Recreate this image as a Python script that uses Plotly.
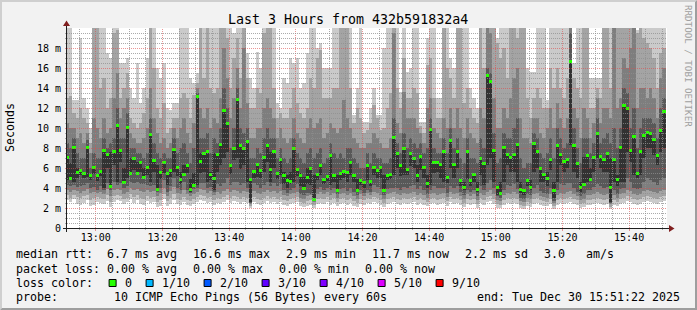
import math
import plotly.graph_objects as go
from datetime import datetime, timedelta

# ---------------- data ----------------
title_text = "Last 3 Hours from 432b591832a4"
graph_start = datetime(2025, 12, 30, 12, 51, 22)
graph_end = datetime(2025, 12, 30, 15, 51, 22)
first_bin_center = datetime(2025, 12, 30, 12, 51, 30)   # 1-minute bins

median = [7.07,4.97,8.1,5.53,5.8,5.47,8.07,5.3,6.03,5.23,5.7,7.8,7.37,4.2,7.7,10.3,7.8,4.53,10.07,5.5,6.97,5.47,6.6,5.07,6.03,9.37,6.8,3.87,5.57,6.53,5.47,5.8,7.9,6.1,4.9,5.37,
          6.23,3.9,4.23,13.13,6.63,7.43,7.63,5.37,5.0,7.37,8.37,11.8,10.47,6.3,7.97,12.87,8.27,7.97,8.63,4.87,5.63,6.37,5.73,7.1,8.23,5.87,7.63,5.5,6.87,5.3,4.73,4.63,8.0,5.87,5.23,3.97,
          5.03,5.97,2.9,5.4,6.27,4.9,5.2,7.23,5.23,3.8,5.47,5.7,5.53,6.53,5.3,3.8,4.8,4.53,6.23,4.7,6.07,5.73,6.03,3.8,5.23,5.37,9.07,7.43,6.23,7.93,5.87,7.47,6.97,5.3,7.17,6.03,
          4.47,9.9,6.53,6.53,6.4,7.63,5.1,8.8,6.4,7.67,4.8,4.03,7.7,4.73,5.37,3.9,6.97,6.43,15.3,14.63,7.77,4.03,3.47,8.1,7.37,7.1,7.4,8.4,3.9,3.73,4.77,4.07,8.43,7.7,5.97,5.37,
          4.97,6.83,3.73,8.23,7.37,6.63,6.87,16.63,8.3,6.43,4.07,4.4,7.27,4.83,7.1,9.47,7.13,6.83,7.43,4.07,6.83,4.83,8.07,12.27,11.97,7.8,9.17,5.47,7.63,9.27,9.57,9.47,8.9,7.23,9.8,11.63]

# sorted ping round-trip times per minute (ms), ping 1 = fastest ... ping 10 = slowest
p1 = [2.8,2.6,2.9,2.4,2.3,2.5,2.8,2.2,2.3,2.6,2.5,2.4,2.7,2.1,2.6,2.8,2.7,2.4,2.6,2.9,2.5,2.8,2.4,2.3,2.7,2.5,2.6,2.1,2.2,2.9,2.2,2.4,2.8,2.4,2.3,2.6,
      2.3,2.2,2.4,2.6,2.8,2.7,2.5,2.6,2.3,2.5,2.4,2.6,2.8,2.5,2.7,2.6,2.4,2.6,2.5,2.0,2.6,2.4,2.3,2.5,2.7,2.5,2.6,2.4,2.6,2.3,2.2,2.4,2.5,2.6,2.2,2.1,
      2.2,2.3,2.0,2.4,2.5,2.4,2.6,2.3,2.5,2.2,2.4,2.5,2.3,2.5,2.2,2.1,2.4,2.3,2.5,2.4,2.6,2.5,2.3,2.1,2.4,2.5,2.6,2.4,2.3,2.5,2.4,2.5,2.6,2.3,2.5,2.3,
      2.2,2.4,2.5,2.3,2.4,2.5,2.2,2.6,2.4,2.5,2.3,2.1,2.4,2.3,2.4,2.0,2.5,2.3,2.6,2.7,2.4,2.0,2.0,2.3,2.5,2.4,2.5,2.4,2.0,1.9,2.2,2.1,2.4,2.5,2.3,2.2,
      2.2,2.4,1.9,2.3,2.5,2.4,2.5,2.6,2.4,2.3,2.0,2.1,2.3,2.3,2.4,2.5,2.4,2.3,2.4,1.9,2.3,2.2,2.4,2.5,2.7,2.6,2.4,2.3,2.4,2.6,2.7,2.6,2.5,2.4,2.6,2.7]
p2 = [3.3,3.0,3.3,3.1,3.0,3.2,3.3,2.8,3.0,3.1,3.0,2.9,3.3,2.6,3.2,3.3,3.2,2.9,3.0,3.4,3.1,3.3,3.0,2.9,3.2,3.0,3.1,2.6,2.8,3.4,2.7,3.0,3.4,2.9,2.8,3.1,
      2.8,2.7,2.9,3.1,3.3,3.2,3.0,3.1,2.8,3.0,2.9,3.1,3.3,3.0,3.2,3.1,2.9,3.1,3.0,2.2,3.1,2.9,2.8,3.0,3.2,3.0,3.1,2.9,3.1,2.8,2.7,2.9,3.0,3.1,2.6,2.5,
      2.7,2.8,2.3,2.9,3.0,2.9,3.1,2.8,3.0,2.6,2.9,3.0,2.8,3.0,2.7,2.5,2.9,2.8,3.0,2.9,3.1,3.0,2.8,2.5,2.9,3.0,3.1,2.9,2.8,3.0,2.9,3.0,3.1,2.8,3.0,2.8,
      2.6,2.9,3.0,2.8,2.9,3.0,2.7,3.1,2.9,3.0,2.8,2.5,2.9,2.8,2.9,2.4,3.0,2.8,3.1,3.2,2.9,2.4,2.3,2.8,3.0,2.9,3.0,2.9,2.3,2.2,2.6,2.5,2.9,3.0,2.8,2.7,
      2.6,2.9,2.2,2.8,3.0,2.9,3.0,3.1,2.9,2.8,2.4,2.5,2.8,2.8,2.9,3.0,2.9,2.8,2.9,2.1,2.8,2.6,2.9,3.0,3.2,3.1,2.9,2.8,2.9,3.1,3.2,3.1,3.0,2.9,3.1,3.2]
p3 = [3.8,3.6,3.8,3.7,3.5,3.7,3.9,3.5,3.6,3.5,3.6,3.4,3.9,3.2,3.8,3.9,3.8,3.4,3.6,4.0,3.8,3.9,3.7,3.6,3.8,3.6,3.7,3.2,3.5,4.0,3.2,3.7,4.1,3.5,3.4,3.8,
      3.4,3.2,3.4,3.6,3.9,3.8,3.5,3.7,3.3,3.6,3.4,3.7,3.9,3.6,3.8,3.7,3.5,3.7,3.6,2.4,3.7,3.5,3.4,3.6,3.8,3.6,3.7,3.5,3.7,3.3,3.2,3.4,3.5,3.6,3.0,2.9,
      3.2,3.3,2.6,3.4,3.6,3.4,3.6,3.3,3.5,3.0,3.4,3.5,3.3,3.5,3.2,2.9,3.4,3.2,3.5,3.3,3.6,3.5,3.3,2.9,3.4,3.5,3.6,3.4,3.3,3.5,3.4,3.5,3.6,3.3,3.5,3.3,
      3.0,3.4,3.5,3.3,3.4,3.5,3.1,3.6,3.4,3.5,3.2,2.9,3.4,3.2,3.4,2.8,3.5,3.3,3.6,3.8,3.4,2.8,2.7,3.3,3.5,3.4,3.6,3.4,2.7,2.6,3.0,2.9,3.4,3.5,3.2,3.1,
      3.0,3.4,2.5,3.3,3.5,3.4,3.6,3.7,3.4,3.2,2.8,2.9,3.3,3.3,3.4,3.6,3.4,3.3,3.4,2.4,3.3,3.0,3.4,3.5,3.8,3.7,3.4,3.3,3.4,3.7,3.8,3.7,3.6,3.5,3.7,3.8]
p4 = [4.3,4.2,4.3,4.1,4.2,4.3,4.5,4.0,4.1,3.8,4.2,3.8,4.5,3.8,4.6,4.3,4.5,4.0,4.2,4.6,4.5,4.6,4.4,4.4,4.3,4.2,4.3,3.6,4.0,4.8,3.6,4.2,5.0,4.0,3.8,4.6,
      3.8,3.5,3.9,4.0,4.5,4.5,4.0,4.1,3.6,4.4,4.2,4.5,5.0,4.3,4.6,4.6,4.3,4.5,4.0,2.5,4.5,4.3,4.0,4.3,4.6,4.2,4.5,4.2,4.4,3.8,3.5,3.8,4.0,4.4,3.4,3.3,
      3.5,3.4,2.8,3.9,4.1,3.8,4.0,3.8,4.0,3.4,3.9,4.0,3.7,4.0,3.6,3.3,3.8,3.5,3.8,3.6,4.3,4.1,3.9,3.3,3.9,4.0,4.0,4.0,3.8,4.1,4.0,4.2,4.3,3.9,4.2,3.8,
      3.4,3.8,4.2,4.0,4.0,4.0,3.5,4.2,4.0,4.2,3.6,3.3,3.8,3.6,3.8,3.2,4.2,3.8,4.5,4.8,4.0,3.2,3.0,3.8,4.3,4.2,4.4,3.9,3.0,2.9,3.4,3.3,4.0,4.3,3.7,3.5,
      3.4,4.0,2.7,3.8,4.4,4.3,4.5,4.5,4.0,3.6,3.2,3.4,3.8,3.8,4.1,4.4,4.2,4.0,4.1,2.5,3.8,3.4,3.9,4.0,5.0,4.6,4.0,3.9,4.0,4.6,5.0,4.8,4.6,4.3,4.8,5.0]
p5 = [4.8,4.8,4.6,5.0,5.3,5.0,5.1,4.8,5.4,4.7,5.2,4.0,6.0,4.2,6.3,4.6,6.6,4.5,5.0,5.5,5.8,5.3,5.6,5.0,5.3,4.6,5.6,3.9,4.9,5.5,4.3,5.1,5.6,5.2,4.4,5.3,
      5.5,3.6,4.2,4.3,5.5,5.6,4.6,4.8,3.8,5.6,6.3,7.0,7.6,5.4,6.8,7.0,5.9,6.3,4.6,2.6,5.0,5.1,5.0,5.6,6.6,4.6,6.0,4.9,5.3,4.4,4.0,4.4,4.6,5.2,4.2,3.8,
      4.4,4.3,2.9,4.8,5.3,4.4,4.7,4.3,4.6,3.8,4.8,5.0,4.6,5.3,4.6,3.8,4.3,4.0,4.8,4.2,5.3,5.0,5.0,3.8,4.8,4.9,5.3,6.0,5.2,5.3,5.3,6.2,6.0,4.6,5.8,5.0,
      4.0,4.3,5.5,5.6,5.0,4.6,4.5,6.0,5.0,6.0,4.2,3.8,4.9,4.2,4.6,3.6,5.3,4.3,6.3,7.0,4.6,3.3,3.3,4.6,6.3,5.6,5.6,4.6,3.5,3.3,4.2,3.8,5.6,6.0,4.6,4.6,
      4.2,5.8,3.0,4.6,6.3,5.6,6.0,8.3,5.6,5.0,3.6,4.4,4.6,4.8,5.6,7.0,6.0,5.6,5.6,2.6,4.6,4.2,4.6,4.6,7.6,6.6,5.3,5.0,5.3,7.0,8.0,8.0,7.3,6.3,7.6,8.0]
p6 = [7.1,6.5,8.1,6.0,5.8,5.5,8.1,5.3,6.0,5.2,5.7,7.8,7.4,7.6,7.7,10.3,7.8,6.0,10.1,7.0,7.0,6.6,6.6,6.0,6.0,9.4,6.8,6.3,5.6,6.5,5.5,5.8,7.9,6.1,5.6,6.3,
      6.2,4.9,5.5,13.1,7.5,7.6,7.6,5.6,7.5,7.4,8.4,11.8,10.5,6.3,8.0,12.9,8.3,8.0,8.6,4.9,5.6,6.4,5.7,7.1,8.2,7.6,7.6,5.5,6.9,5.6,5.3,5.6,8.0,5.9,5.5,5.1,
      6.0,6.0,5.3,5.4,6.3,4.9,5.2,7.2,5.2,5.3,5.5,5.7,5.5,6.5,5.3,4.9,4.8,4.5,6.2,4.7,6.1,5.7,6.0,5.3,5.2,5.4,9.1,7.4,6.2,7.9,5.9,7.5,7.0,6.3,7.2,6.0,
      5.3,9.9,6.5,6.5,6.4,7.6,5.1,8.8,6.4,7.7,4.8,4.6,7.7,4.7,5.4,4.6,7.0,6.4,15.3,14.6,7.8,4.0,4.6,8.1,7.4,7.1,7.4,8.4,4.6,3.9,4.8,4.8,8.4,7.7,6.0,5.4,
      5.6,6.8,4.6,8.2,7.4,6.6,6.9,16.6,8.3,6.4,4.6,7.1,7.3,6.0,7.1,9.5,7.1,6.8,7.4,7.0,6.8,5.3,8.1,12.3,12.0,7.8,9.2,5.5,7.6,9.3,9.6,9.5,8.9,7.2,9.8,11.6]
p7 = [8.5,8.0,9.0,7.5,7.0,7.0,8.8,6.0,7.5,7.0,7.0,9.0,8.0,8.5,9.0,12.0,9.0,9.0,11.5,8.0,8.0,7.5,7.5,7.0,7.5,11.0,8.5,7.5,7.0,7.5,7.0,7.0,9.0,7.5,8.0,8.5,
      7.5,6.5,8.0,13.5,9.0,9.0,9.5,7.5,9.0,8.5,10.0,14.0,12.0,8.0,10.0,14.0,10.0,9.5,10.0,7.0,7.0,8.0,7.5,9.0,10.0,9.0,9.0,7.0,8.0,7.0,6.5,7.0,9.0,7.5,7.0,6.5,
      7.5,8.0,7.0,7.5,8.0,6.5,7.0,8.5,7.5,7.0,7.5,7.0,8.0,8.0,7.0,6.5,6.0,6.0,7.5,6.5,7.5,7.0,7.0,6.5,6.5,7.0,11.0,8.5,7.5,9.5,8.0,9.0,8.5,8.0,8.5,7.5,
      8.0,11.0,8.0,7.5,7.5,9.0,7.5,10.0,8.0,9.0,7.0,6.5,9.0,7.0,7.0,6.5,9.0,8.0,16.0,15.5,9.5,6.5,7.0,9.5,9.0,9.0,10.0,11.0,7.0,6.0,6.5,6.5,9.5,9.0,7.5,7.0,
      7.5,9.0,7.0,10.0,9.0,8.0,8.5,19.5,10.0,8.0,6.5,9.0,9.0,7.5,8.5,11.0,8.5,9.0,9.5,8.5,10.0,8.0,10.0,14.0,13.5,10.0,12.0,8.0,10.0,11.0,11.0,11.0,10.5,9.0,12.0,13.0]
p8 = [10.5,10.0,10.0,9.0,9.5,8.5,9.5,7.5,11.0,10.0,9.0,11.0,9.5,10.0,13.0,15.5,11.0,12.0,13.0,9.5,9.0,8.5,8.5,9.0,10.0,14.0,11.0,9.5,8.5,9.0,8.0,8.5,10.0,9.0,10.0,11.0,
      9.5,8.5,10.5,14.0,12.0,11.0,12.0,10.0,11.0,10.5,13.0,18.0,15.0,11.0,13.0,16.0,12.0,18.0,12.5,9.0,9.0,10.0,10.0,12.0,13.0,12.0,11.0,9.0,10.0,9.0,8.5,9.0,11.0,9.5,9.0,8.5,
      10.0,11.0,10.0,10.5,11.0,9.0,9.5,10.5,10.0,9.5,10.0,12.8,11.0,10.0,9.0,8.5,8.0,8.0,8.5,8.5,9.5,9.0,8.5,8.0,8.0,9.0,19.5,10.5,9.5,13.6,11.0,11.0,11.0,10.0,9.5,8.5,
      12.0,13.0,10.0,9.5,9.0,11.0,10.0,12.0,10.0,12.0,10.0,9.0,11.0,9.5,9.0,8.5,12.0,11.0,20,19.5,13.0,10.0,10.0,12.0,11.0,13.0,15.0,16.0,11.0,9.0,9.0,8.5,11.0,11.0,9.5,9.0,
      10.0,12.0,10.0,12.5,11.0,10.0,11.0,20,12.0,11.0,9.0,12.0,11.0,9.0,10.5,13.0,10.5,12.0,12.0,11.0,20,12.0,13.0,17.0,16.0,18.0,20,12.0,14.0,14.0,13.0,14.0,13.0,11.0,15.0,16.0]
p9 = [13.0,13.2,11.5,11.0,12.0,11.0,10.5,8.5,20,20,14.0,15.0,12.0,13.0,19.5,19.8,13.0,14.0,15.5,11.0,10.5,10.0,10.5,11.5,13.0,20,16.0,12.0,11.0,12.5,9.5,10.0,11.0,11.0,13.0,13.5,
      13.0,11.0,13.3,14.5,20,15.0,20,14.0,13.5,14.0,20,20,19.0,14.0,17.0,19.0,15.0,20,15.0,12.0,12.0,14.0,13.5,19.5,20,20,14.0,11.0,11.5,11.0,11.0,12.0,14.0,12.5,11.5,11.0,
      12.0,15.0,14.0,17.0,17.8,13.0,13.0,13.0,14.0,14.0,20,20,20,14.0,10.5,12.0,11.0,9.5,9.8,10.5,12.3,11.0,9.8,10.0,12.0,13.5,20,14.0,12.0,17.0,13.0,13.0,14.0,13.5,10.2,9.5,
      16.3,17.0,13.0,11.0,11.0,20,16.0,15.0,13.0,20,20,12.5,14.0,12.0,11.0,10.5,20,16.0,20,20,20,18.5,17.0,18.0,15.0,20,20,19.0,20,20,13.0,11.0,13.0,14.0,13.0,12.0,
      12.0,16.0,14.0,16.0,14.0,13.0,15.0,20,15.0,14.0,13.0,20,20,12.0,12.0,14.0,13.0,20,20,14.0,20,20,20,20,20,20,20,19.5,20,19.0,18.5,18.0,17.0,14.0,17.5,18.0]
p10 = [20,20,12.8,12.8,19.0,13.0,12.0,10.0,20,20,20,20,17.5,17.0,20,20,16.5,16.5,17.0,14.0,13.0,16.5,12.5,14.0,17.0,20,20,16.0,15.0,16.5,12.0,11.8,12.5,12.5,20,20,
       20,15.0,14.5,15.5,20,20,20,20,20,20,20,20,20,20,19.5,20,20,20,17.5,15.0,14.0,17.6,16.0,20,20,20,20,12.5,12.0,15.0,14.5,17.0,16.5,17.0,14.0,14.5,
       17.5,20,20,18.0,18.5,16.0,16.0,16.0,20,20,20,20,20,20,11.3,14.0,20,10.6,10.6,12.0,14.0,11.3,11.3,18.0,20,20,20,20,13.6,20,15.6,16.0,20,20,10.6,10.6,
       19.0,20,20,13.0,13.0,20,20,17.0,16.0,20,20,20,20,14.0,13.0,12.0,20,20,20,20,20,19.0,20,20,20,20,20,20,20,20,16.0,15.6,15.6,20,20,20,
       12.8,20,20,20,20,20,20,20,16.5,20,20,20,20,15.0,15.0,15.0,15.0,20,20,20,20,20,20,20,20,20,20,19.8,20,20,20,20,20,20,20,20]

y_tick_vals = [0, 2, 4, 6, 8, 10, 12, 14, 16, 18]
y_tick_text = ["0", "2 m", "4 m", "6 m", "8 m", "10 m", "12 m", "14 m", "16 m", "18 m"]

rtt_avg, rtt_max, rtt_min, rtt_now, rtt_sd, rtt_ams = 6.7, 16.6, 2.9, 11.7, 2.2, 3.0
loss_avg, loss_max, loss_min, loss_now = 0.00, 0.00, 0.00, 0.00
loss_labels = ["0", "1/10", "2/10", "3/10", "4/10", "5/10", "9/10"]
loss_colors = ["#26ff00", "#00b8ff", "#0059ff", "#5e00ff", "#7e00ff", "#dd00ff", "#ff0000"]
probe_text = "10 ICMP Echo Pings (56 Bytes) every 60s"
end_text = "end: Tue Dec 30 15:51:22 2025"

# ---------------- geometry / style ----------------
W, H = 697, 310
ML, MR, MT, MB = 67, 30, 28, 82
PW, PH = W - ML - MR, H - MT - MB
MONO = "DejaVu Sans Mono"
CHAR = 7.0          # legend glyph advance (px)
GLUE = 16.0         # gap between legend items (px)
smoke_colors = ["#cacaca", "#a4a4a4", "#7e7e7e", "#585858", "#323232"]
GRID = "rgba(143,143,143,0.75)"
MGRID = "rgba(222,79,79,0.6)"
ARROW = "#801f1f"
AXIS = "#1f1f1f"


def xp(px):
    return (px - ML) / PW


def yp(py):
    return (H - MB - py) / PH


def nb(s):
    return s.replace(" ", "\u00a0")


times = [first_bin_center + timedelta(minutes=i) for i in range(len(median))]
pings = [p1, p2, p3, p4, p5, p6, p7, p8, p9, p10]

fig = go.Figure()
for k in range(5):
    lo = pings[k]
    hi = pings[9 - k]
    fig.add_trace(go.Bar(
        x=times, y=[h - l for l, h in zip(lo, hi)], base=lo, width=60000,
        marker=dict(color=smoke_colors[k], line=dict(width=0)),
        hoverinfo="skip", showlegend=False))

fig.add_trace(go.Bar(
    x=times, y=[0.3] * len(median), base=[m - 0.15 for m in median], width=60000,
    marker=dict(color=loss_colors[0], line=dict(width=0)),
    hoverinfo="skip", showlegend=False))

shapes = []
span = (graph_end - graph_start).total_seconds()


def time_to_paper(t):
    pxl = ML + (t - graph_start).total_seconds() * PW / span
    return xp(math.floor(pxl) + 0.5)


# vertical grid: minor every 5 min, major every 20 min
t = datetime(2025, 12, 30, 12, 55)
while t < graph_end:
    major = (t.minute % 20 == 0)
    xx = time_to_paper(t)
    shapes.append(dict(type="line", xref="paper", yref="paper", x0=xx, x1=xx, y0=0, y1=1,
                       line=dict(color=MGRID if major else GRID, width=1, dash="1px,1px"), layer="above"))
    shapes.append(dict(type="line", xref="paper", yref="paper", x0=xx, x1=xx, y0=yp(228), y1=yp(228 + (3 if major else 2)),
                       line=dict(color=MGRID if major else GRID, width=1), layer="above"))
    t += timedelta(minutes=5)

# horizontal grid: minor every 0.5 ms, major every 2 ms
for i in range(1, 40):
    v = i * 0.5
    major = (i % 4 == 0)
    pyv = math.floor(H - MB - v * PH / 20.0) + 0.5
    shapes.append(dict(type="line", xref="paper", yref="paper", x0=0, x1=1, y0=yp(pyv), y1=yp(pyv),
                       line=dict(color=MGRID if major else GRID, width=1, dash="1px,1px"), layer="above"))
    shapes.append(dict(type="line", xref="paper", yref="paper", x0=xp(ML - 2), x1=xp(ML), y0=yp(pyv), y1=yp(pyv),
                       line=dict(color=MGRID if major else GRID, width=1), layer="above"))

# axes with arrows
shapes.append(dict(type="line", xref="paper", yref="paper", x0=xp(ML - 4), x1=xp(ML + PW + 4),
                   y0=yp(228.5), y1=yp(228.5), line=dict(color=AXIS, width=1), layer="above"))
shapes.append(dict(type="line", xref="paper", yref="paper", x0=xp(ML - 0.5), x1=xp(ML - 0.5),
                   y0=yp(232), y1=yp(MT - 4), line=dict(color=AXIS, width=1), layer="above"))
shapes.append(dict(type="path", xref="paper", yref="paper", layer="above",
                   path="M {} {} L {} {} L {} {} Z".format(xp(ML + PW + 2), yp(225), xp(ML + PW + 2), yp(232), xp(ML + PW + 7.5), yp(228.5)),
                   fillcolor=ARROW, line=dict(width=0)))
shapes.append(dict(type="path", xref="paper", yref="paper", layer="above",
                   path="M {} {} L {} {} L {} {} Z".format(xp(ML - 4), yp(MT - 2), xp(ML + 3), yp(MT - 2), xp(ML - 0.5), yp(MT - 7.5)),
                   fillcolor=ARROW, line=dict(width=0)))

# 3d frame
shapes.append(dict(type="path", xref="paper", yref="paper", layer="above",
                   path="M {} {} L {} {} L {} {} L {} {} L {} {} L {} {} Z".format(
                       xp(0), yp(H), xp(2), yp(H - 2), xp(2), yp(2), xp(W - 2), yp(2), xp(W), yp(0), xp(0), yp(0)),
                   fillcolor="#cfcfcf", line=dict(width=0)))
shapes.append(dict(type="path", xref="paper", yref="paper", layer="above",
                   path="M {} {} L {} {} L {} {} L {} {} L {} {} L {} {} Z".format(
                       xp(2), yp(H - 2), xp(W - 2), yp(H - 2), xp(W - 2), yp(2), xp(W), yp(0), xp(W), yp(H), xp(0), yp(H)),
                   fillcolor="#9e9e9e", line=dict(width=0)))

annotations = []


def text(x, y, s, size=11.63, anchor="left", color="#000000", angle=0):
    annotations.append(dict(xref="paper", yref="paper", x=xp(x), y=yp(y), text=nb(s), showarrow=False,
                            xanchor=anchor, yanchor="middle", borderpad=0, textangle=angle,
                            font=dict(family=MONO, size=size, color=color)))


def legend_row(y, items, x0=15.0):
    # rrdtool places successive legend items separated by a fixed glue gap
    x = x0
    for s in items:
        text(x, y, s)
        x += len(s) * CHAR + GLUE


text(348, 19, title_text, size=13.3, anchor="center")
text(10, 128, "Seconds", anchor="center", angle=-90)
text(688, 66, "RRDTOOL / TOBI OETIKER", size=9.2, anchor="center", color="#a0a0a0", angle=90)

legend_row(254, ["median rtt:  {:.1f} ms avg".format(rtt_avg), "{:.1f} ms max".format(rtt_max),
                 "{:.1f} ms min".format(rtt_min), "{:.1f} ms now".format(rtt_now),
                 "{:.1f} ms sd".format(rtt_sd), "{:.1f}   am/s".format(rtt_ams)])
legend_row(268.5, ["packet loss: {:.2f} % avg".format(loss_avg), "{:.2f} % max".format(loss_max),
                   "{:.2f} % min".format(loss_min), "{:.2f} % now".format(loss_now)])
text(15, 283, "loss color:")
text(15, 297, "probe:        " + probe_text)
text(681, 297, end_text, anchor="right")

lx = 15 + len("loss color:") * CHAR + GLUE + 15.6
for lab, col in zip(loss_labels, loss_colors):
    shapes.append(dict(type="rect", xref="paper", yref="paper", x0=xp(lx - 14.5), x1=xp(lx - 7.5),
                       y0=yp(286.5), y1=yp(279.5), fillcolor=col, line=dict(color="#000000", width=1), layer="above"))
    text(lx, 283, lab)
    lx += CHAR * len(lab) + 30

fig.update_layout(
    width=W, height=H, margin=dict(l=ML, r=MR, t=MT, b=MB, pad=0),
    paper_bgcolor="#f2f2f2", plot_bgcolor="#ffffff",
    barmode="overlay", bargap=0, showlegend=False,
    font=dict(family=MONO, size=11.63, color="#000000"),
    shapes=shapes, annotations=annotations,
    xaxis=dict(type="date", range=[graph_start, graph_end], tickformat="%H:%M",
               tick0="2025-12-30 13:00:00", dtick=20 * 60 * 1000, ticks="", showgrid=False,
               zeroline=False, showline=False, tickfont=dict(family=MONO, size=10, color="#000000"),
               ticklabelstandoff=2, fixedrange=True),
    yaxis=dict(range=[0, 20], tickmode="array", tickvals=y_tick_vals, ticktext=y_tick_text,
               ticks="", showgrid=False, zeroline=False, showline=False,
               tickfont=dict(family=MONO, size=10, color="#000000"), ticklabelstandoff=5, fixedrange=True),
)

fig.write_html("out.html")
